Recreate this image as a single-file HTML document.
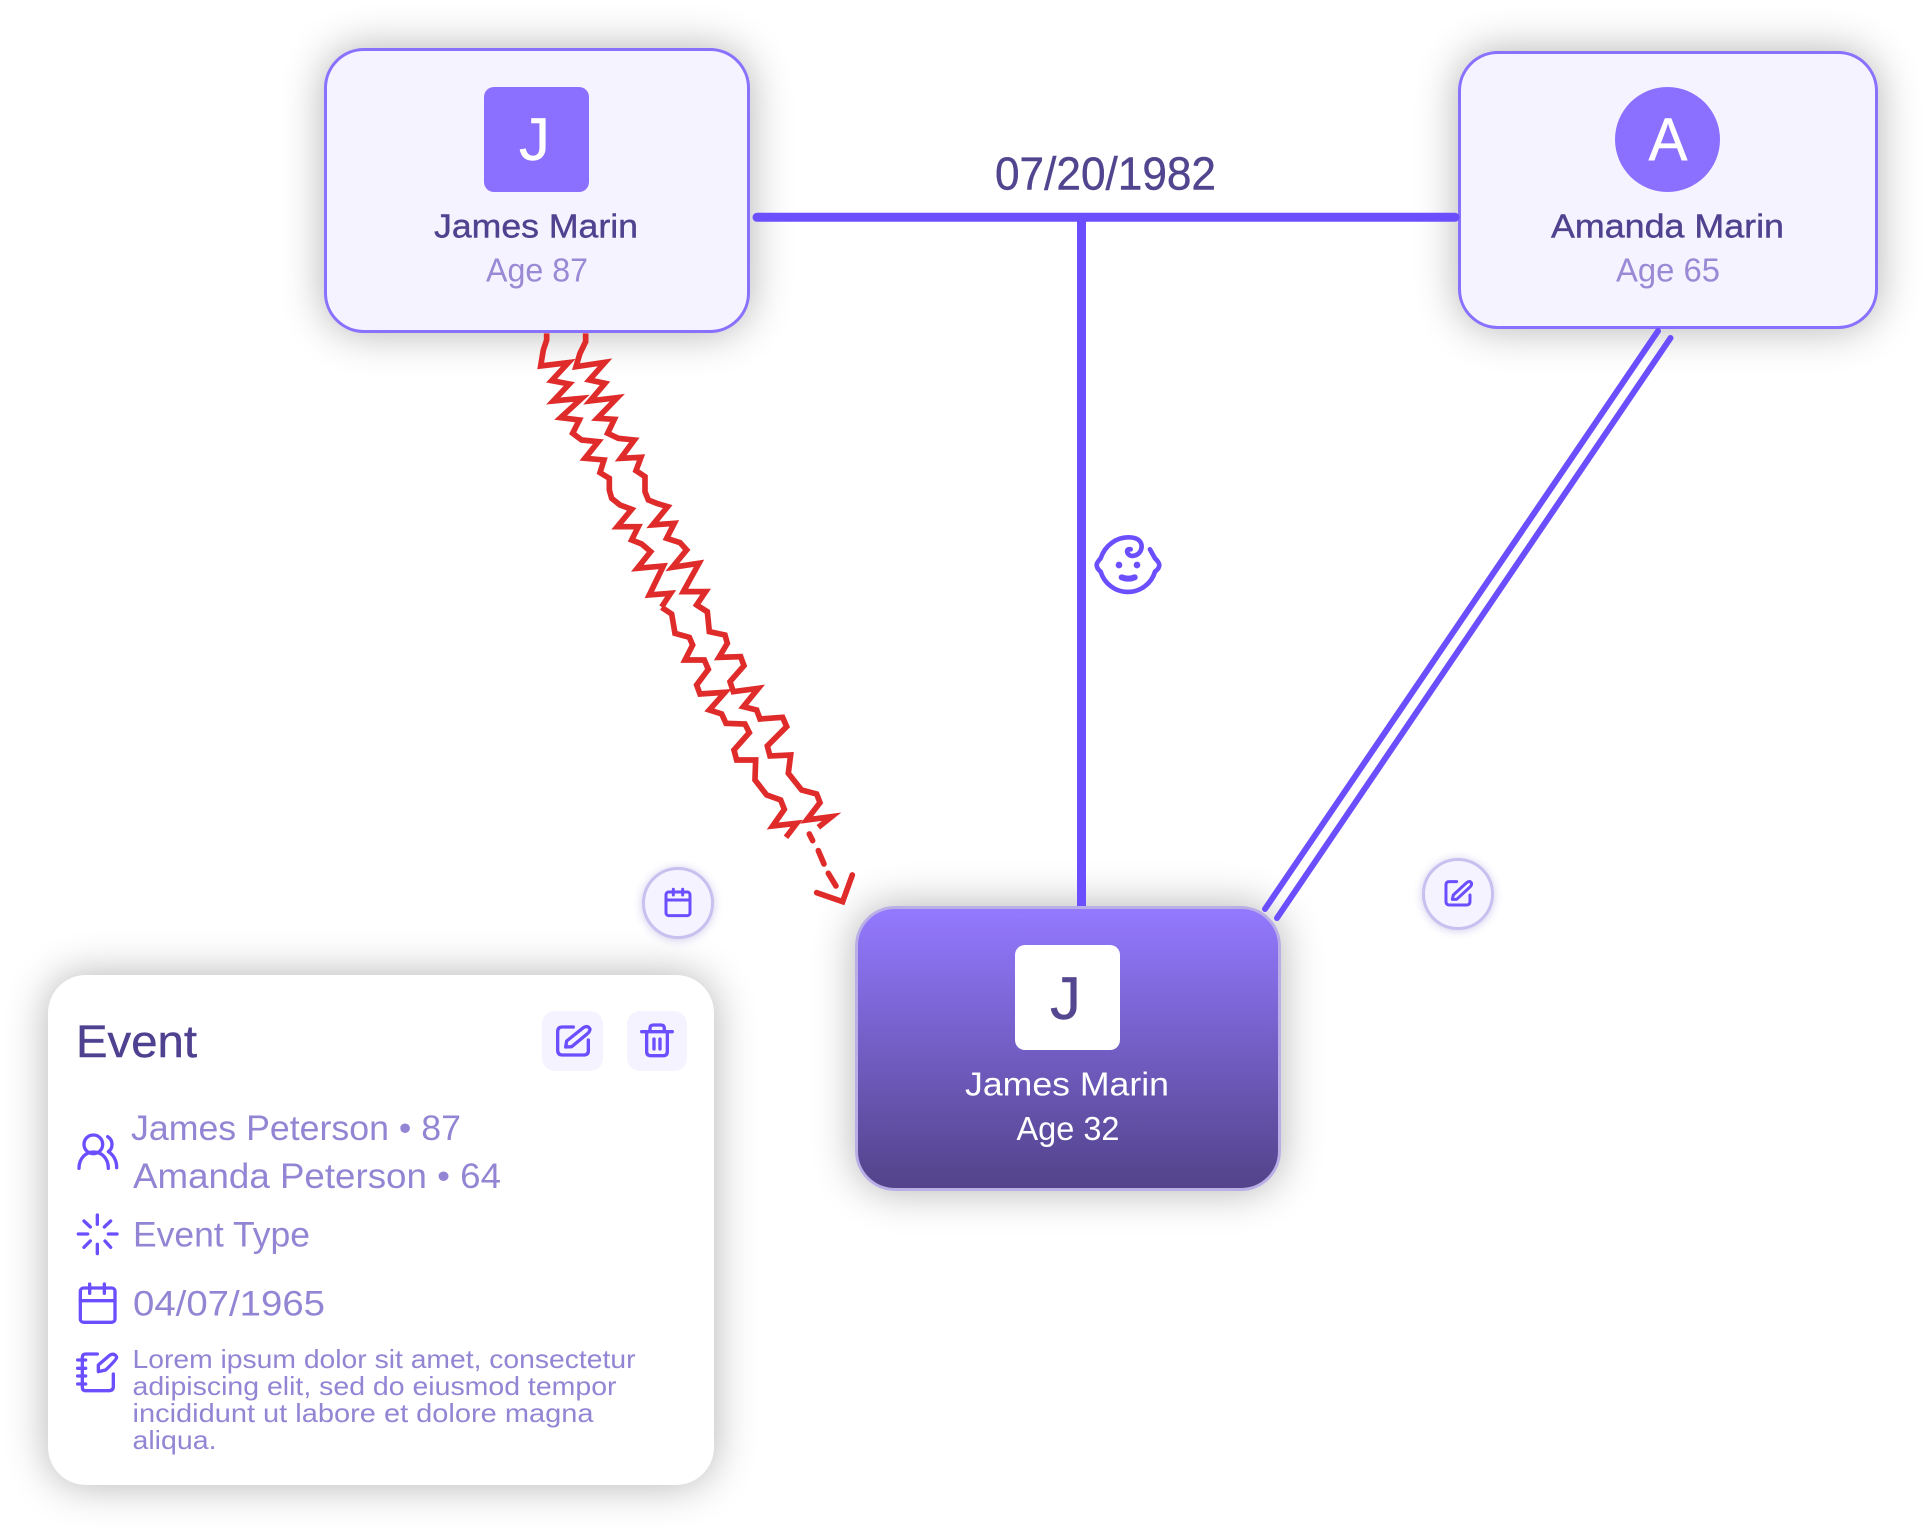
<!DOCTYPE html>
<html><head><meta charset="utf-8"><title>Family diagram</title>
<style>
html,body{margin:0;padding:0;background:#fff}
#p{position:relative;width:1926px;height:1533px;overflow:hidden;background:#fff}
.b{position:absolute;box-sizing:border-box}
.n{border-radius:40px;border:3px solid #8a70ff;background:#f5f3ff;box-shadow:0 0 42px rgba(0,0,0,.3)}
svg{position:absolute;left:0;top:0}
text{font-family:"Liberation Sans",sans-serif}
.nm{font-size:33px;fill:#50428f;stroke:#50428f;stroke-width:.4px}
.ag{font-size:33px;fill:#9a8ad6}
.ev{font-size:35px;fill:#9385d4}
.lo{font-size:26px;fill:#9385d4}
.ic{fill:none;stroke:#6b4fff;stroke-linecap:round;stroke-linejoin:round}
</style></head><body><div id="p">
<div class="b n" style="left:324px;top:48px;width:426px;height:285px"></div>
<div class="b n" style="left:1458px;top:51px;width:420px;height:278px"></div>
<div class="b n" style="left:855px;top:906px;width:426px;height:285px;border-color:#b9aee6;background:linear-gradient(#9379ff,#52438a)"></div>
<div class="b" style="left:48px;top:975px;width:666px;height:510px;border-radius:38px;background:#fff;box-shadow:0 0 42px rgba(0,0,0,.3)"></div>
<div class="b" style="left:484px;top:87px;width:105px;height:105px;border-radius:10px;background:#8b70ff"></div>
<div class="b" style="left:1615px;top:87px;width:105px;height:105px;border-radius:50%;background:#8b70ff"></div>
<div class="b" style="left:1015px;top:945px;width:105px;height:105px;border-radius:10px;background:#fff"></div>
<div class="b" style="left:542px;top:1011px;width:61px;height:60px;border-radius:13px;background:#f5f3ff"></div>
<div class="b" style="left:627px;top:1011px;width:60px;height:60px;border-radius:13px;background:#f5f3ff"></div>
<div class="b" style="left:642px;top:867px;width:72px;height:72px;border-radius:50%;border:3px solid #c9c0f0;background:#f5f3ff;box-shadow:0 1px 9px rgba(90,70,190,.28)"></div>
<div class="b" style="left:1422px;top:858px;width:72px;height:72px;border-radius:50%;border:3px solid #c9c0f0;background:#f5f3ff;box-shadow:0 1px 9px rgba(90,70,190,.28)"></div>

<svg width="1926" height="1533" viewBox="0 0 1926 1533" xmlns="http://www.w3.org/2000/svg">
<g stroke="#6b4fff" fill="none" stroke-linecap="round">
<line x1="757" y1="217.3" x2="1455" y2="217.3" stroke-width="9"/>
<line x1="1081.5" y1="217" x2="1081.5" y2="906" stroke-width="9" stroke-linecap="butt"/>
<line x1="1658" y1="331" x2="1265" y2="909" stroke-width="6"/>
<line x1="1670.5" y1="338" x2="1277" y2="918" stroke-width="6"/>
</g>
<g transform="translate(520 320) scale(.3333)" fill="none" stroke="#e02b2b" stroke-width="17" stroke-linejoin="miter" stroke-miterlimit="4">
<polyline points="80,40 80,60 70,90 62,138 145,128 95,182 148,192 100,243 185,235 122,293 178,300 158,340 185,360 235,365 195,415 252,420 240,458 268,475 268,510 275,535 300,555 335,568 292,620 355,620 335,660 365,672 392,695 352,745 430,738 388,825 452,820 425,861"/>
<polyline points="197,40 197,65 180,100 168,140 255,127 208,180 255,190 210,243 292,233 232,295 283,298 263,340 295,355 343,360 302,415 363,412 348,452 375,470 375,515 385,540 410,550 443,560 398,615 463,610 440,655 480,668 500,690 457,742 537,730 490,815 557,815 530,855 558,873"/>
</g>
<g transform="translate(620 600) scale(.3333)" fill="none" stroke="#e02b2b" stroke-width="17" stroke-miterlimit="4">
<polyline points="125,22 155,42 165,100 208,112 218,135 195,180 253,180 265,208 230,255 240,282 315,277 268,330 305,342 318,370 375,372 388,398 342,450 350,480 407,480 405,540 440,585 482,600 493,628 458,678 530,670 498,712"/>
<polyline points="230,15 262,35 268,95 315,105 322,130 297,172 362,170 372,197 330,245 340,275 415,265 370,320 410,330 420,357 488,352 500,380 442,438 450,468 512,465 505,520 545,570 590,582 600,608 560,660 635,650 595,682"/>
<g stroke-linecap="round">
<line x1="568" y1="702" x2="578" y2="722"/><line x1="595" y1="752" x2="612" y2="792"/><line x1="625" y1="820" x2="648" y2="858"/>
<polyline points="590,878 668,905 697,825" stroke-linejoin="miter"/>
</g>
</g>

<text x="995" y="189.3" textLength="221" lengthAdjust="spacingAndGlyphs" style="font-size:46px;fill:#52458f;stroke:#52458f;stroke-width:.4px">07/20/1982</text>

<text x="519" y="160" textLength="31" lengthAdjust="spacingAndGlyphs" style="font-size:60px;fill:#fff;stroke:#fff;stroke-width:.4px">J</text>
<text x="434" y="237.5" textLength="204" lengthAdjust="spacingAndGlyphs" class="nm">James Marin</text>
<text x="486" y="281.7" textLength="102" lengthAdjust="spacingAndGlyphs" class="ag">Age 87</text>

<text x="1648.5" y="160" textLength="39" lengthAdjust="spacingAndGlyphs" style="font-size:60px;fill:#fff;stroke:#fff;stroke-width:.4px">A</text>
<text x="1551" y="237.5" textLength="233" lengthAdjust="spacingAndGlyphs" class="nm">Amanda Marin</text>
<text x="1616" y="281.7" textLength="104" lengthAdjust="spacingAndGlyphs" class="ag">Age 65</text>

<text x="1050" y="1019" textLength="31" lengthAdjust="spacingAndGlyphs" style="font-size:60px;fill:#54468f;stroke:#54468f;stroke-width:.4px">J</text>
<text x="965" y="1095.5" textLength="204" lengthAdjust="spacingAndGlyphs" style="font-size:33px;fill:#fff">James Marin</text>
<text x="1016.5" y="1140" textLength="103" lengthAdjust="spacingAndGlyphs" style="font-size:33px;fill:#fff">Age 32</text>

<text x="76" y="1057" textLength="121" lengthAdjust="spacingAndGlyphs" style="font-size:45px;fill:#4f4190;stroke:#4f4190;stroke-width:.4px">Event</text>
<text x="131" y="1140" textLength="330" lengthAdjust="spacingAndGlyphs" class="ev">James Peterson • 87</text>
<text x="133" y="1188" textLength="368" lengthAdjust="spacingAndGlyphs" class="ev">Amanda Peterson • 64</text>
<text x="133" y="1246.5" textLength="177" lengthAdjust="spacingAndGlyphs" class="ev">Event Type</text>
<text x="133" y="1315.5" textLength="192" lengthAdjust="spacingAndGlyphs" class="ev">04/07/1965</text>
<text x="132.5" y="1368" textLength="503" lengthAdjust="spacingAndGlyphs" class="lo">Lorem ipsum dolor sit amet, consectetur</text>
<text x="132.5" y="1395" textLength="484" lengthAdjust="spacingAndGlyphs" class="lo">adipiscing elit, sed do eiusmod tempor</text>
<text x="132.5" y="1422" textLength="461" lengthAdjust="spacingAndGlyphs" class="lo">incididunt ut labore et dolore magna</text>
<text x="132.5" y="1449" textLength="84" lengthAdjust="spacingAndGlyphs" class="lo">aliqua.</text>

<!-- baby -->
<g transform="translate(1060 500) scale(.3333)" class="ic" stroke-width="14">
<path d="M270 148L285 175Q298 188 298 195Q298 205 285 215A85 85 0 0 1 122 215Q110 205 110 195Q110 188 122 175C135 135 170 112 205 112C235 112 245 125 245 140C243 168 212 175 203 160C198 150 205 146 212 148"/>
<circle cx="177" cy="195" r="10" fill="#6b4fff" stroke="none"/><circle cx="231" cy="195" r="10" fill="#6b4fff" stroke="none"/>
<path d="M185 232Q205 240 224 232" stroke-width="18"/>
</g>
<!-- people + spark -->
<g transform="translate(65 1125) scale(.3333)" class="ic" stroke-width="10">
<circle cx="85" cy="58" r="28"/>
<path d="M42 130C42 65 130 65 130 130"/>
<path d="M128 35C145 45 145 70 130 80C145 90 155 105 155 128"/>
<path d="M97 270V298M97 358V386M40 327H68M130 327H156M57 288L76 306M137 288L118 306M57 367L76 348M137 367L120 348"/>
</g>
<!-- calendar + notebook -->
<g transform="translate(65 1270) scale(.3333)" class="ic" stroke-width="10">
<rect x="46" y="54" width="104" height="103" rx="10"/>
<path d="M46 92H150M74 42V70M118 42V70"/>
<path d="M97 252H62Q52 252 52 262V352Q52 362 62 362H132Q145 362 145 350V312"/>
<path d="M38 270H62M38 295H62M38 318H62M38 342H62"/>
<path d="M100 305L100 285L135 255Q150 248 155 262Q155 268 122 300Z"/>
</g>
<!-- edit + trash -->
<g transform="translate(535 1005) scale(.3333)" class="ic" stroke-width="10">
<path d="M115 66H82Q68 66 68 80V135Q68 150 82 150H145Q160 150 160 138V105"/>
<path d="M92 126L95 108L145 68Q158 60 165 72Q165 80 155 88L110 125Z"/>
<path d="M320 80H412M345 80V70Q345 60 355 60H378Q388 60 388 70V80M335 80V140Q335 152 347 152H385Q397 152 397 140V80M357 102V132M375 102V132"/>
</g>
<!-- small calendar -->
<g transform="translate(620 600) scale(.3333)" class="ic" stroke-width="9">
<rect x="138" y="876" width="72" height="71" rx="8"/>
<path d="M138 900H210M160 868V885M188 868V885"/>
</g>
<!-- small edit -->
<g transform="translate(1260 820) scale(.3333)" class="ic" stroke-width="9">
<path d="M590 185H568Q558 185 558 195V245Q558 255 568 255H620Q630 255 630 245V225"/>
<path d="M577 238L580 225L620 188Q630 180 635 190Q635 197 628 203L590 238Z"/>
</g>
</svg>
</div></body></html>
